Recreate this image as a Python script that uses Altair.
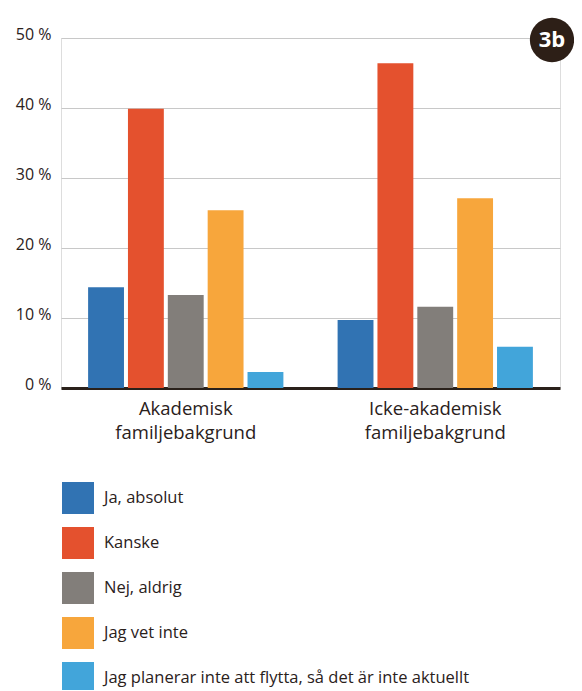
import altair as alt
import pandas as pd

groups = ["Akademisk familjebakgrund", "Icke-akademisk familjebakgrund"]
series = ["Ja, absolut", "Kanske", "Nej, aldrig", "Jag vet inte",
          "Jag planerar inte att flytta, så det är inte aktuellt"]
colors = ["#3173b3", "#e4512e", "#827e7a", "#f7a63c", "#42a5da"]
values_akad = [14.4, 39.9, 13.3, 25.4, 2.3]
values_icke = [9.7, 46.4, 11.6, 27.1, 5.9]
y_ticks = [0, 10, 20, 30, 40, 50]
badge = "3b"

rows = []
for g, vals in zip(groups, [values_akad, values_icke]):
    for s, v in zip(series, vals):
        rows.append({"grupp": g, "svar": s, "andel": v})
df = pd.DataFrame(rows)

FONT = "Open Sans"
DARK = "#2a211b"

bars = alt.Chart(df).mark_bar().encode(
    x=alt.X("grupp:N", sort=groups, title=None,
            scale=alt.Scale(paddingInner=0, paddingOuter=0),
            axis=alt.Axis(labelAngle=0, labelFontSize=18.5, labelColor=DARK, labelFont=FONT,
                          labelExpr="split(datum.label, ' ')", labelLineHeight=24,
                          labelPadding=11, ticks=False, domainColor=DARK, domainWidth=3,
                          labelBaseline="top")),
    xOffset=alt.XOffset("svar:N", sort=series,
                        scale=alt.Scale(paddingInner=0.1, paddingOuter=0.68)),
    y=alt.Y("andel:Q", title=None,
            scale=alt.Scale(domain=[0, 50], nice=False),
            axis=alt.Axis(values=y_ticks, labelExpr="datum.value + ' %'", labelFontSize=16,
                          labelColor=DARK, labelFont=FONT, ticks=False, domain=False,
                          gridColor="#c8c8c8", gridWidth=1.2, labelPadding=10,
                          labelBaseline="alphabetic", labelOffset=1)),
    color=alt.Color("svar:N", sort=series, title=None,
                    scale=alt.Scale(domain=series, range=colors),
                    legend=alt.Legend(orient="none", legendX=1, legendY=444,
                                      symbolType="square", symbolSize=1024,
                                      symbolStrokeWidth=0, symbolOpacity=1,
                                      labelFontSize=16.5, labelFont=FONT, labelColor=DARK,
                                      labelOffset=10, rowPadding=13, padding=0,
                                      labelLimit=500)),
)

badge_df = pd.DataFrame({"t": [badge]})
circle = alt.Chart(badge_df).mark_point(filled=True, shape="circle", size=1963,
                                         color="#2d1f17", opacity=1).encode(
    x=alt.value(491), y=alt.value(2))
badge_text = alt.Chart(badge_df).mark_text(font=FONT, fontSize=22, fontWeight="bold",
                                           color="white", align="center",
                                           baseline="middle").encode(
    x=alt.value(491), y=alt.value(2), text="t:N")

chart = alt.layer(bars, circle, badge_text).properties(
    width=499, height=350,
    autosize=alt.AutoSizeParams(type="none"),
    padding={"left": 53, "top": 30, "right": 14, "bottom": 302},
).configure_view(stroke=None).configure(background="white")

chart.save("out.html", embed_options={"renderer": "svg", "actions": False})
